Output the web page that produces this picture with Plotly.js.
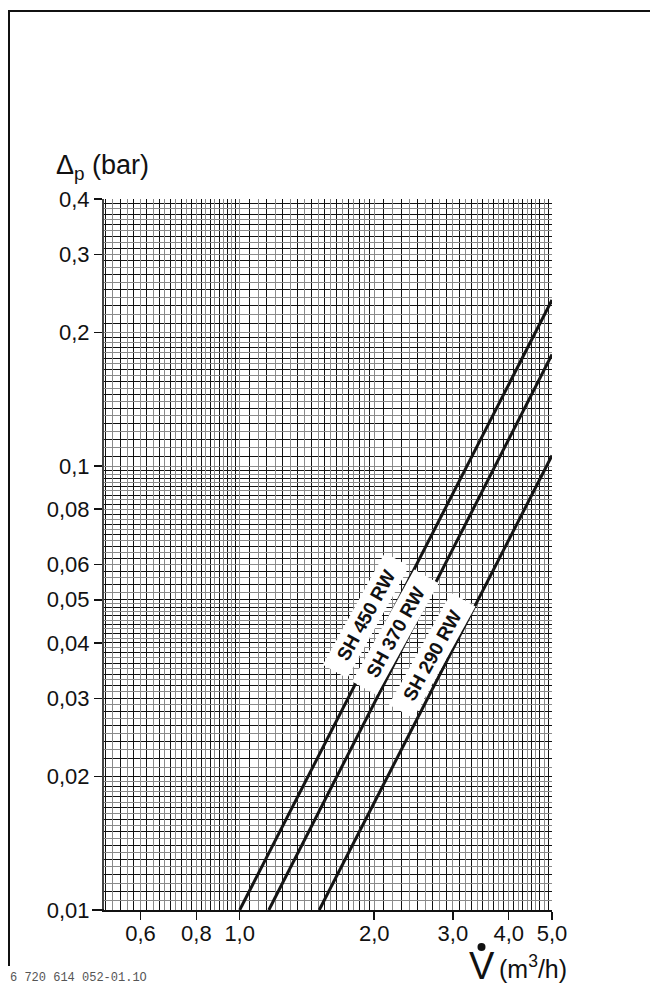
<!DOCTYPE html>
<html>
<head>
<meta charset="utf-8">
<script src="https://cdn.plot.ly/plotly-3.0.1.min.js"></script>
<style>html,body{margin:0;padding:0;background:#fff;}#chart{width:650px;height:987px;}</style>
</head>
<body>
<div id="chart"></div>
<script>
// ---- data ----
const seriesNames = ["SH 450 RW", "SH 370 RW", "SH 290 RW"];
const flowSH450 = [1.0, 2.0, 3.0, 5.0];
const dpSH450   = [0.01, 0.039, 0.087, 0.237];
const flowSH370 = [1.162, 2.0, 3.0, 5.0];
const dpSH370   = [0.01, 0.0292, 0.0651, 0.1786];
const flowSH290 = [1.507, 2.0, 3.0, 5.0];
const dpSH290   = [0.01, 0.01745, 0.0387, 0.1057];
// label positions (data units)
const labelFlow = [1.92, 2.23, 2.70];
const labelDp   = [0.046, 0.0422, 0.0374];

const xTickVals = [0.6, 0.8, 1.0, 2.0, 3.0, 4.0, 5.0];
const xTickText = ["0,6", "0,8", "1,0", "2,0", "3,0", "4,0", "5,0"];
const yTickVals = [0.01, 0.02, 0.03, 0.04, 0.05, 0.06, 0.08, 0.1, 0.2, 0.3, 0.4];
const yTickText = ["0,01", "0,02", "0,03", "0,04", "0,05", "0,06", "0,08", "0,1", "0,2", "0,3", "0,4"];

// ---- grid of the log paper (styling) ----
function gridVals(segments) {
  const out = [];
  segments.forEach(([a, b, s]) => {
    const n = Math.round((b - a) / s);
    for (let i = 0; i < n; i++) out.push(+(a + i * s).toFixed(6));
  });
  return out;
}
const xGrid = gridVals([[0.5, 1.0, 0.02], [1.0, 2.0, 0.05], [2.0, 5.0, 0.1]]).concat([5.0]);
const yGrid = gridVals([[0.01, 0.02, 0.0005], [0.02, 0.05, 0.001], [0.05, 0.1, 0.002], [0.1, 0.2, 0.005], [0.2, 0.4, 0.01]]).concat([0.4]);
const xDark = xGrid.filter((v, i) => i % 2 === 0), xGray = xGrid.filter((v, i) => i % 2 === 1);
const yDark = yGrid.filter((v, i) => i % 2 === 0), yGray = yGrid.filter((v, i) => i % 2 === 1);

const W = 650, H = 987, L = 104, R = 98, T = 199, B = 77;
const pw = W - L - R, ph = H - T - B;
const px = x => (x - L) / pw;          // pixel -> paper x
const py = y => (H - B - y) / ph;      // pixel -> paper y

const xr = [Math.log10(0.497), Math.log10(5.0)];
const yr = [Math.log10(0.01), Math.log10(0.4)];
const font = "Liberation Sans, Arial, Helvetica, sans-serif";

const lineStyle = {color: "#151515", width: 3};
const traces = [
  {x: flowSH450, y: dpSH450, name: seriesNames[0], mode: "lines", line: lineStyle, xaxis: "x", yaxis: "y"},
  {x: flowSH370, y: dpSH370, name: seriesNames[1], mode: "lines", line: lineStyle, xaxis: "x", yaxis: "y"},
  {x: flowSH290, y: dpSH290, name: seriesNames[2], mode: "lines", line: lineStyle, xaxis: "x", yaxis: "y"},
  {x: [1, 2], y: [0.02, 0.03], mode: "lines", line: {width: 0}, xaxis: "x2", yaxis: "y2", hoverinfo: "skip", showlegend: false, opacity: 0}
];

const annotations = seriesNames.map((n, i) => ({
  x: Math.log10(labelFlow[i]), y: Math.log10(labelDp[i]), xref: "x", yref: "y",
  text: "<b>\u00a0\u00a0" + n + "\u00a0\u00a0</b>", showarrow: false, textangle: -61,
  font: {family: font, size: 19, color: "#111"}, bgcolor: "#fff", borderpad: 3
}));
annotations.push(
  {x: px(54), y: py(167), xref: "paper", yref: "paper", xanchor: "left", yanchor: "middle", showarrow: false,
   text: "\u0394<sub>p</sub> (bar)", font: {family: font, size: 27, color: "#111"}},
  {x: px(482), y: py(966), xref: "paper", yref: "paper", xanchor: "center", yanchor: "middle", showarrow: false,
   text: "V", font: {family: font, size: 38, color: "#111"}},
  {x: px(497), y: py(967), xref: "paper", yref: "paper", xanchor: "left", yanchor: "middle", showarrow: false,
   text: "(m<sup>3</sup>/h)", font: {family: font, size: 25, color: "#111"}},
  {x: px(8), y: py(978), xref: "paper", yref: "paper", xanchor: "left", yanchor: "middle", showarrow: false,
   text: "6 720 614 052-01.1O", font: {family: "Liberation Mono, Courier New, monospace", size: 12, color: "#555"}}
);

const shapes = [
  {type: "line", xref: "paper", yref: "paper", x0: px(9), x1: px(9), y0: py(10), y1: py(966), line: {color: "#111", width: 2}},
  {type: "line", xref: "paper", yref: "paper", x0: px(8), x1: px(660), y0: py(11), y1: py(11), line: {color: "#111", width: 2}},
  {type: "line", xref: "paper", yref: "paper", x0: px(92), x1: px(104), y0: py(910), y1: py(910), line: {color: "#111", width: 2}},
  {type: "circle", xref: "paper", yref: "paper", x0: px(477.5), x1: px(485.5), y0: py(943), y1: py(951), fillcolor: "#111", line: {width: 0}}
];

const layout = {
  width: W, height: H, margin: {l: L, r: R, t: T, b: B, pad: 0},
  paper_bgcolor: "#fff", plot_bgcolor: "#fff", showlegend: false,
  font: {family: font, size: 22, color: "#111"},
  xaxis: {type: "log", range: xr, tickmode: "array", tickvals: xTickVals, ticktext: xTickText,
    ticks: "outside", ticklen: 8, tickwidth: 1.5, tickcolor: "#111", showgrid: false, zeroline: false,
    ticklabelstandoff: -5,
    showline: true, linecolor: "#111", linewidth: 2, tickfont: {family: font, size: 22, color: "#111"},
    minor: {tickmode: "array", tickvals: xDark, showgrid: true, gridcolor: "#111", gridwidth: 1, ticks: ""}},
  yaxis: {type: "log", range: yr, tickmode: "array", tickvals: yTickVals, ticktext: yTickText,
    ticks: "outside", ticklen: 8, tickwidth: 1.5, tickcolor: "#111", showgrid: false, zeroline: false,
    showline: true, linecolor: "#444", linewidth: 2, tickfont: {family: font, size: 22, color: "#111"},
    minor: {tickmode: "array", tickvals: yDark, showgrid: true, gridcolor: "#111", gridwidth: 1, ticks: ""}},
  xaxis2: {type: "log", range: xr, overlaying: "x", showticklabels: false, ticks: "", zeroline: false,
    tickmode: "array", tickvals: xGray, showgrid: true, gridcolor: "#8a8a8a", gridwidth: 1, layer: "below traces"},
  yaxis2: {type: "log", range: yr, overlaying: "y", showticklabels: false, ticks: "", zeroline: false,
    tickmode: "array", tickvals: yGray, showgrid: true, gridcolor: "#8a8a8a", gridwidth: 1, layer: "below traces"},
  annotations: annotations, shapes: shapes
};

Plotly.newPlot("chart", traces, layout, {staticPlot: true, displayModeBar: false});
</script>
</body>
</html>
